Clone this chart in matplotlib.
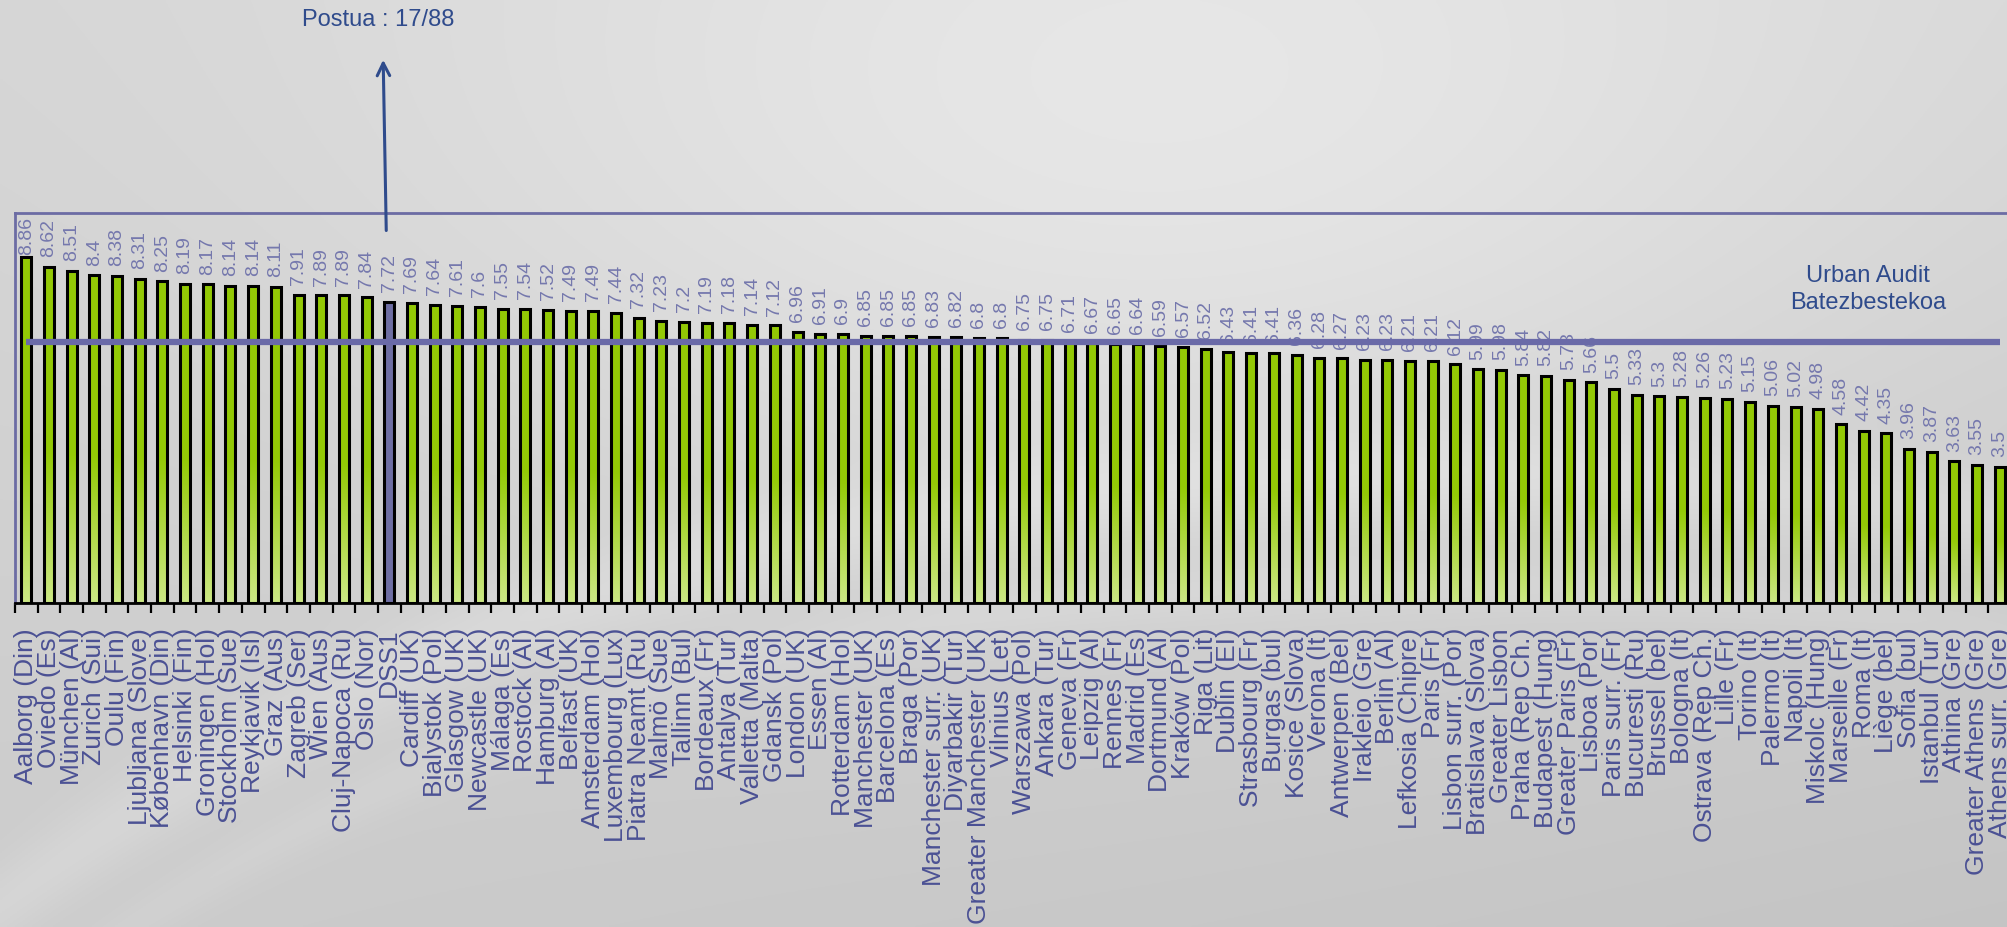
import numpy as np
import matplotlib
matplotlib.use('Agg')
import matplotlib.pyplot as plt

# ---------------- data ----------------
cities = [
    "Aalborg (Din)", "Oviedo (Es)", "München (Al)", "Zurich (Sui)", "Oulu (Fin)",
    "Ljubljana (Slove)", "København (Din)", "Helsinki (Fin)", "Groningen (Hol)",
    "Stockholm (Sue)", "Reykjavik (Isl)", "Graz (Aus)", "Zagreb (Ser)", "Wien (Aus)",
    "Cluj-Napoca (Ru)", "Oslo (Nor)", "DSS1", "Cardiff (UK)", "Bialystok (Pol)",
    "Glasgow (UK)", "Newcastle (UK)", "Málaga (Es)", "Rostock (Al)", "Hamburg (Al)",
    "Belfast (UK)", "Amsterdam (Hol)", "Luxembourg (Lux)", "Piatra Neamt (Ru)",
    "Malmö (Sue)", "Tallinn (Bul)", "Bordeaux (Fr)", "Antalya (Tur)",
    "Valletta (Malta)", "Gdansk (Pol)", "London (UK)", "Essen (Al)", "Rotterdam (Hol)",
    "Manchester (UK)", "Barcelona (Es)", "Braga (Por)", "Manchester surr. (UK)",
    "Diyarbakir (Tur)", "Greater Manchester (UK)", "Vilnius (Let)", "Warszawa (Pol)",
    "Ankara (Tur)", "Geneva (Fr)", "Leipzig (Al)", "Rennes (Fr)", "Madrid (Es)",
    "Dortmund (Al)", "Kraków (Pol)", "Riga (Lit)", "Dublin (EI)", "Strasbourg (Fr)",
    "Burgas (bul)", "Kosice (Slova)", "Verona (It)", "Antwerpen (Bel)",
    "Irakleio (Gre)", "Berlin (Al)", "Lefkosia (Chipre)", "Paris (Fr)",
    "Lisbon surr. (Por)", "Bratislava (Slova)", "Greater Lisbon", "Praha (Rep Ch.)",
    "Budapest (Hung)", "Greater Paris (Fr)", "Lisboa (Por)", "Paris surr. (Fr)",
    "Bucuresti (Ru)", "Brussel (bel)", "Bologna (It)", "Ostrava (Rep Ch.)",
    "Lille (Fr)", "Torino (It)", "Palermo (It)", "Napoli (It)", "Miskolc (Hung)",
    "Marseille (Fr)", "Roma (It)", "Liège (bel)", "Sofia (bul)", "Istanbul (Tur)",
    "Athina (Gre)", "Greater Athens (Gre)", "Athens surr. (Gre)",
]
values = [
    8.86, 8.62, 8.51, 8.4, 8.38, 8.31, 8.25, 8.19, 8.17, 8.14, 8.14, 8.11, 7.91, 7.89,
    7.89, 7.84, 7.72, 7.69, 7.64, 7.61, 7.6, 7.55, 7.54, 7.52, 7.49, 7.49, 7.44, 7.32,
    7.23, 7.2, 7.19, 7.18, 7.14, 7.12, 6.96, 6.91, 6.9, 6.85, 6.85, 6.85, 6.83, 6.82,
    6.8, 6.8, 6.75, 6.75, 6.71, 6.67, 6.65, 6.64, 6.59, 6.57, 6.52, 6.43, 6.41, 6.41,
    6.36, 6.28, 6.27, 6.23, 6.23, 6.21, 6.21, 6.12, 5.99, 5.98, 5.84, 5.82, 5.73, 5.66,
    5.5, 5.33, 5.3, 5.28, 5.26, 5.23, 5.15, 5.06, 5.02, 4.98, 4.58, 4.42, 4.35, 3.96,
    3.87, 3.63, 3.55, 3.5,
]
highlight = "DSS1"
average = 6.68
avg_label = "Urban Audit\nBatezbestekoa"

# ---------------- figure ----------------
W, H = 2008, 927
DPI = 100
plt.rcParams['font.family'] = ['Liberation Sans', 'DejaVu Sans']
fig = plt.figure(figsize=(W / DPI, H / DPI), dpi=DPI)

# background (grey gradient with soft swoosh)
bg = fig.add_axes([0, 0, 1, 1], zorder=-10)
yy, xx = np.mgrid[0:1:400j, 0:1:800j]          # yy = 0 at top
lum = 0.80 + 0.035 * (1 - yy)
lum += 0.075 * np.exp(-((xx - 0.58) / 0.38) ** 2 - ((yy - 0.15) / 0.45) ** 2)
curve = 0.98 - 0.75 * (1 - np.exp(-xx * 2.2)) + 0.25 * xx ** 2
lum += 0.035 * np.exp(-((yy - curve) / 0.05) ** 2)
curve2 = curve + 0.12
lum += 0.02 * np.exp(-((yy - curve2) / 0.03) ** 2)
lum -= 0.03 * yy * xx
lum = np.clip(lum, 0, 1)
bg.imshow(np.dstack([lum, lum, lum]), aspect='auto', extent=[0, 1, 0, 1],
          origin='upper')
bg.set_axis_off()

# main axes
ax_left, ax_right, ax_top, ax_bottom = 15, 2011, 213, 603
ax = fig.add_axes([ax_left / W, (H - ax_bottom) / H,
                   (ax_right - ax_left) / W, (ax_bottom - ax_top) / H])
ax.patch.set_alpha(0)

n = len(cities)
x = np.arange(n)
hi = cities.index(highlight)
bw = 0.44

face = ['none' if c != highlight else '#6E6EA3' for c in cities]
bars = ax.bar(x, values, width=bw, color=face, edgecolor='black',
              linewidth=2.2, zorder=3)

# vertical gradient fill for green bars
t = np.linspace(0, 1, 200)[:, None]           # 0 bottom -> 1 top
dark = np.array([0.58, 0.79, 0.02])
light = np.array([0.80, 0.91, 0.52])
mix = np.clip(t / 0.45, 0, 1)
grad = light * (1 - mix) + dark * mix
grad = grad[::-1][:, None, :]                   # top row first
for i, (b, c) in enumerate(zip(bars, cities)):
    if c == highlight:
        continue
    im = ax.imshow(grad, extent=[i - bw / 2, i + bw / 2, 0, values[i]],
                   aspect='auto', zorder=2.5, interpolation='bilinear')
    im.set_clip_path(b)

ax.set_xlim(-0.5, n - 0.5)
ax.set_ylim(0, 10)
ax.set_yticks([])

# ticks at category boundaries, labels at centres
ax.set_xticks(np.arange(n + 1) - 0.5)
ax.set_xticklabels([])
ax.tick_params(axis='x', which='major', length=7.2, width=1.6, color='black',
               direction='out')
ax.set_xticks(x, minor=True)
ax.set_xticklabels(cities, minor=True, rotation=90, fontsize=19, color='#4B5194')
ax.tick_params(axis='x', which='minor', length=0, pad=18)

frame_col = '#6C6CA4'
ax.spines['left'].set_color(frame_col)
ax.spines['left'].set_linewidth(2)
ax.spines['top'].set_color(frame_col)
ax.spines['top'].set_linewidth(2)
ax.spines['bottom'].set_color('black')
ax.spines['bottom'].set_linewidth(2)
ax.spines['right'].set_visible(False)

# average line
ax.plot(x, [average] * n, color='#6A6AA8', lw=4.5, zorder=6,
        solid_capstyle='butt')
ax.text(81.2, 8.03, avg_label, ha='center', va='center', fontsize=17,
        color='#2F4B8C', linespacing=1.3, zorder=7)

# value labels
labels = []
for i, v in enumerate(values):
    a = ax.annotate(f'{v:g}', (i, v), xytext=(0, 7), textcoords='offset points',
                    rotation=90, ha='center', va='bottom', fontsize=14,
                    color='#7578AD', zorder=4, annotation_clip=False)
    labels.append(a)

# keep value labels inside the plot area (as the original does)
fig.canvas.draw()
renderer = fig.canvas.get_renderer()
top_px = ax.get_window_extent(renderer).y1 - 4
for a in labels:
    bb = a.get_window_extent(renderer)
    if bb.y1 > top_px:
        shift_pt = (bb.y1 - top_px) * 72 / DPI
        a.xyann = (0, 7 - shift_pt)

# rank annotation
ax.annotate('', xy=(hi - 0.27, 14.0), xytext=(hi - 0.13, 9.48),
            arrowprops=dict(arrowstyle='->,head_length=0.9,head_width=0.45',
                            color='#2F4B8C', lw=2.2),
            annotation_clip=False)
ax.text(hi - 0.5, 14.95, f"Postua : {hi + 1}/{n}", ha='center', va='center',
        fontsize=17, color='#2F4B8C', clip_on=False)

fig.savefig('out.png', dpi=DPI)
